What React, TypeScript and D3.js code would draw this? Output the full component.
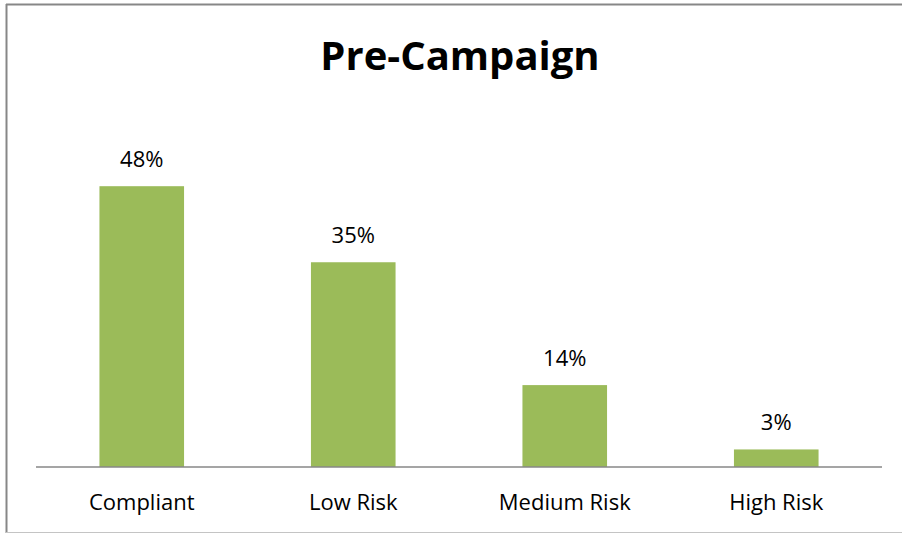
import React from "react";
import * as d3 from "d3";

const title = "Pre-Campaign";
const categories = ["Compliant", "Low Risk", "Medium Risk", "High Risk"];
const values = [48, 35, 14, 3];
const yMax = 60;

const W = 902;
const H = 534;
const plot = { left: 36, right: 882, top: 116, bottom: 467 };
const FONT = "'Open Sans', Lato, sans-serif";

export default function App() {
  const x = d3
    .scaleBand<string>()
    .domain(categories)
    .range([plot.left, plot.right])
    .paddingInner(0.6)
    .paddingOuter(0.3);
  const y = d3.scaleLinear().domain([0, yMax]).range([plot.bottom, plot.top]);

  return (
    <svg
      width={W}
      height={H}
      style={{ position: "absolute", left: 0, top: 0, background: "#fff" }}
    >
      <rect x={0} y={0} width={W} height={H} fill="#fff" />
      {/* frame */}
      <line x1={6.5} y1={4} x2={6.5} y2={533} stroke="#878787" strokeWidth={2} />
      <line x1={6} y1={4.5} x2={W} y2={4.5} stroke="#878787" strokeWidth={2} />
      <line x1={6} y1={532.5} x2={W} y2={532.5} stroke="#c4c4c4" strokeWidth={1.2} />

      <text
        x={(plot.left + plot.right) / 2 + 1}
        y={70}
        textAnchor="middle"
        fontFamily={FONT}
        fontWeight={700}
        fontSize={40}
        fill="#000"
      >
        {title}
      </text>

      {categories.map((c, i) => (
        <g key={c}>
          <rect
            x={x(c)}
            y={y(values[i])}
            width={x.bandwidth()}
            height={y(0) - y(values[i])}
            fill="#9bbb59"
          />
          <text
            x={(x(c) as number) + x.bandwidth() / 2}
            y={y(values[i]) - 19}
            textAnchor="middle"
            fontFamily={FONT}
            fontSize={22}
            fill="#000"
          >
            {values[i]}%
          </text>
          <text
            x={(x(c) as number) + x.bandwidth() / 2}
            y={510}
            textAnchor="middle"
            fontFamily={FONT}
            fontSize={22}
            fill="#000"
          >
            {c}
          </text>
        </g>
      ))}

      <line
        x1={plot.left}
        x2={plot.right}
        y1={y(0)}
        y2={y(0)}
        stroke="#878787"
        strokeWidth={1.5}
      />
    </svg>
  );
}
